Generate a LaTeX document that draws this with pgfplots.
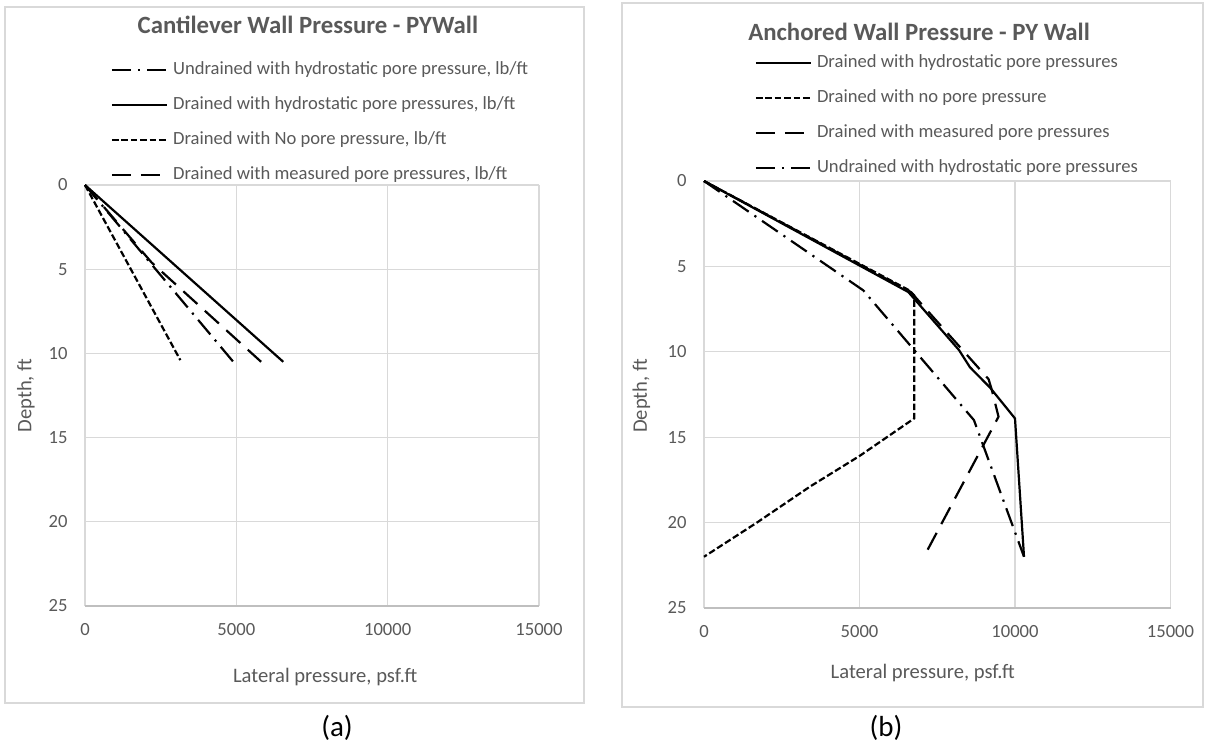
\documentclass[border=0pt]{standalone}
\usepackage{fontspec}
\setmainfont{Carlito}
\usepackage{pgfplots}
\pgfplotsset{compat=1.18}
\definecolor{txt}{HTML}{595959}
\definecolor{grd}{HTML}{D9D9D9}
\definecolor{axl}{HTML}{BFBFBF}
\definecolor{frm}{HTML}{D9D9D9}
\tikzset{
  solidln/.style={black, line width=1.1pt},
  shortdash/.style={black, line width=1.1pt, dash pattern=on 3.3pt off 1.4pt},
  longdash/.style={black, line width=1.1pt, dash pattern=on 9.5pt off 5pt},
  dashdotln/.style={black, line width=1.1pt, dash pattern=on 9.5pt off 3.5pt on 1.1pt off 3.5pt},
}
\pgfplotsset{
  excel/.style={
    scale only axis,
    anchor=south west,
    xmin=0, xmax=15000, ymin=0, ymax=25,
    y dir=reverse,
    xtick={0,5000,10000,15000},
    ytick={0,5,10,15,20,25},
    scaled x ticks=false,
    grid=major,
    major grid style={grd, line width=0.6pt},
    axis line style={draw=none},
    tick style={draw=none},
    /pgf/number format/1000 sep={},
    /pgf/number format/assume math mode=true,
    ticklabel style={font=\fontsize{9.3}{11}\selectfont, text=txt},
    xticklabel style={anchor=center, yshift=-12pt},
    yticklabel style={anchor=east, inner sep=0pt, xshift=-8.5pt},
    label style={font=\fontsize{10.3}{12}\selectfont, text=txt},
    title style={font=\bfseries\fontsize{12.4}{15}\selectfont, text=txt, anchor=center, yshift=0pt},
    legend style={draw=none, fill=none, anchor=north west,
      font=\fontsize{9.3}{11}\selectfont, text=txt,
      inner sep=0pt, outer sep=0pt, row sep=9pt, column sep=2.5pt,
      nodes={inner sep=0pt, text height=6.5pt, text depth=2pt}},
    legend cell align=left,
    legend image code/.code={\draw[##1] (0pt,0pt) -- (27.5pt,0pt);},
    clip=false,
  }
}
\begin{document}
\begin{tikzpicture}
\useasboundingbox (0,0) rectangle (603.5pt,-372pt);
\draw[frm, line width=0.6pt] (2.5pt,-3.5pt) rectangle (292pt,-351.5pt);
\draw[frm, line width=0.6pt] (311pt,-1.5pt) rectangle (601.5pt,-353.5pt);
% Panel (a)
\begin{axis}[excel,
  at={(42.5pt,-303pt)}, width=227pt, height=210.5pt,
  title={Cantilever Wall Pressure - PYWall},
  title style={at={(axis description cs:0.491,1.351)}},
  xlabel={Lateral pressure, psf.ft},
  xlabel style={at={(axis description cs:0.529,-0.169)}, anchor=center},
  ylabel={Depth, ft},
  ylabel style={at={(axis description cs:-0.13,0.5)}, anchor=center, rotate=0},
  legend style={at={(axis description cs:0.057,1.293)}},
]
\draw[axl, line width=0.8pt] (axis cs:0,25) -- (axis cs:15000,25);
\addplot[dashdotln] coordinates {(0,0) (4900,10.5)};
\addlegendentry{Undrained with hydrostatic pore pressure, lb/ft}
\addplot[solidln] coordinates {(0,0) (6550,10.5)};
\addlegendentry{Drained with hydrostatic pore pressures, lb/ft}
\addplot[shortdash] coordinates {(0,0) (3150,10.4)};
\addlegendentry{Drained with No pore pressure, lb/ft}
\addplot[longdash] coordinates {(0,0) (2200,4.6) (5820,10.5)};
\addlegendentry{Drained with measured pore pressures, lb/ft}
\end{axis}
% Panel (b)
\begin{axis}[excel,
  at={(352pt,-304pt)}, width=233.25pt, height=213.5pt,
  title={Anchored Wall Pressure - PY Wall},
  title style={at={(axis description cs:0.461,1.321)}},
  xlabel={Lateral pressure, psf.ft},
  xlabel style={at={(axis description cs:0.469,-0.152)}, anchor=center},
  ylabel={Depth, ft},
  ylabel style={at={(axis description cs:-0.134,0.497)}, anchor=center, rotate=0},
  legend style={at={(axis description cs:0.109,1.297)}},
]
\draw[axl, line width=0.8pt] (axis cs:0,25) -- (axis cs:15000,25);
\addplot[solidln] coordinates {(0,0) (6570,6.5) (8200,9.9) (8550,10.9) (9200,12.1) (10000,13.9) (10290,22.0)};
\addlegendentry{Drained with hydrostatic pore pressures}
\addplot[shortdash] coordinates {(0,0) (6600,6.4) (6760,6.7) (6760,13.9) (5000,16.1) (3400,17.9) (1700,20.0) (0,22.0)};
\addlegendentry{Drained with no pore pressure}
\addplot[longdash] coordinates {(0,0) (6650,6.5) (9150,11.6) (9250,12.2) (9470,13.8) (7100,21.9)};
\addlegendentry{Drained with measured pore pressures}
\addplot[dashdotln] coordinates {(0,0) (5120,6.4) (8680,14.0) (10290,22.0)};
\addlegendentry{Undrained with hydrostatic pore pressures}
\end{axis}
\node[font=\fontsize{14.5}{17}\selectfont] at (168.5pt,-364pt) {(a)};
\node[font=\fontsize{14.5}{17}\selectfont] at (443pt,-364pt) {(b)};
\end{tikzpicture}
\end{document}
